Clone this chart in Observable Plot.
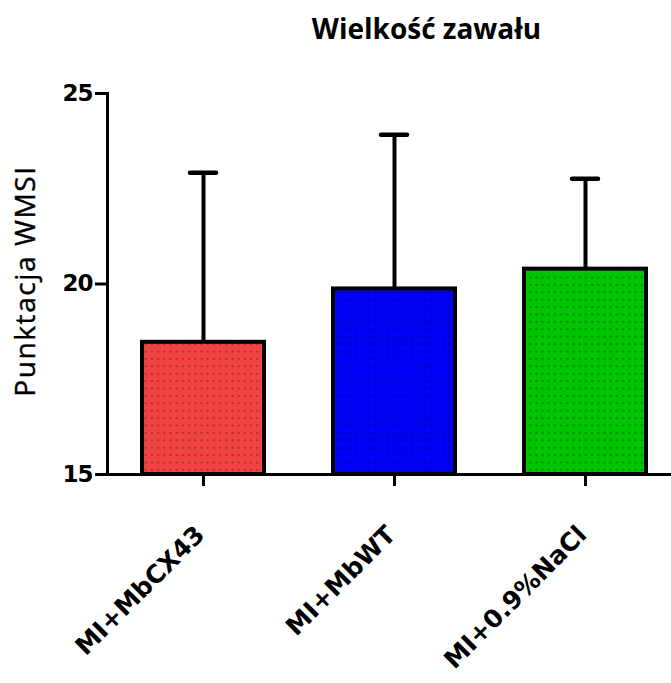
<!DOCTYPE html>
<html>
<head>
<meta charset="utf-8">
<script src="https://cdn.jsdelivr.net/npm/d3@7"></script>
<script src="https://cdn.jsdelivr.net/npm/@observablehq/plot@0.6"></script>
<style>
  html, body { margin: 0; padding: 0; background: #fff; }
  #chart svg { display: block; }
</style>
</head>
<body>
<div id="chart"></div>
<script>
const title = "Wielkość zawału";
const yLabel = "Punktacja WMSI";
const categories = ["MI+MbCX43", "MI+MbWT", "MI+0.9%NaCl"];
const means = [18.47, 19.87, 20.39];
const upperErr = [22.92, 23.92, 22.76];
const yTicks = [15, 20, 25];
const patternIds = ["url(#pat-red)", "url(#pat-blue)", "url(#pat-green)"];
const baseColors = ["#f04444", "#0000f8", "#00c400"];
const dotColors = ["#b82a2a", "#0000a8", "#008a00"];

const data = categories.map((c, i) => ({cat: c, mean: means[i], hi: upperErr[i]}));

const numFont = "'DejaVu Sans', sans-serif";

const chart = Plot.plot({
  width: 671,
  height: 683,
  marginLeft: 107,
  marginTop: 93,
  marginBottom: 209,
  marginRight: 0,
  style: {background: "#fff", color: "#000"},
  x: {domain: categories, range: [107.5, 680.5], paddingInner: 0.36, paddingOuter: 0.18, axis: null, label: null},
  y: {domain: [15, 25], axis: null, label: null},
  color: {type: "ordinal", domain: categories, range: patternIds},
  marks: [
    Plot.ruleX(data, {x: "cat", y1: "mean", y2: "hi", stroke: "#000", strokeWidth: 4}),
    Plot.tickY(data, {x: "cat", y: "hi", stroke: "#000", strokeWidth: 4.5, strokeLinecap: "round", insetLeft: 48, insetRight: 48}),
    Plot.barY(data, {x: "cat", y1: 15, y2: "mean", fill: "cat", stroke: "#000", strokeWidth: 4}),
    Plot.ruleY([15], {stroke: "#000", strokeWidth: 3}),
    Plot.frame({anchor: "left", stroke: "#000", strokeWidth: 3}),
    Plot.axisY({ticks: yTicks, label: null, tickSize: 12, tickPadding: 3, strokeWidth: 3, fontSize: 23, fontWeight: "bold", fontFamily: numFont, tickFormat: d => String(d)}),
    Plot.axisX({label: null, tickSize: 12, strokeWidth: 3, tickFormat: () => ""}),
    Plot.text(categories, {x: d => d, frameAnchor: "bottom", dx: -3, dy: 56, rotate: -45, textAnchor: "end", lineAnchor: "middle", fontSize: 25, fontWeight: "bold", fontFamily: numFont, fill: "#000"}),
    Plot.text([title], {frameAnchor: "top", dx: 37, dy: -63, lineAnchor: "middle", fontSize: 28, fontWeight: "bold", fontFamily: "'Open Sans', sans-serif", fill: "#000"}),
    Plot.text([yLabel], {frameAnchor: "left", dx: -81, dy: -3, rotate: -90, lineAnchor: "middle", textAnchor: "middle", fontSize: 28, fontFamily: "'Open Sans', sans-serif", fill: "#000"})
  ]
});

const svg = d3.select(chart.tagName.toLowerCase() === "svg" ? chart : chart.querySelector("svg"));
const defs = svg.insert("defs", ":first-child");
["pat-red", "pat-blue", "pat-green"].forEach((id, i) => {
  const p = defs.append("pattern").attr("id", id).attr("patternUnits", "userSpaceOnUse")
    .attr("width", 6.2).attr("height", 7.4);
  p.append("rect").attr("width", 6.2).attr("height", 7.4).attr("fill", baseColors[i]);
  p.append("circle").attr("cx", 3.1).attr("cy", 3.7).attr("r", 1.1).attr("fill", dotColors[i]);
});
document.getElementById("chart").appendChild(chart);
svg.selectAll("text").filter(function() { return this.textContent === yLabel; }).attr("letter-spacing", "1.6px").attr("stroke", "#000").attr("stroke-width", 0.4);
svg.selectAll("text").filter(function() { return ["15", "20", "25"].includes(this.textContent); }).attr("letter-spacing", "-1px");
</script>
</body>
</html>
